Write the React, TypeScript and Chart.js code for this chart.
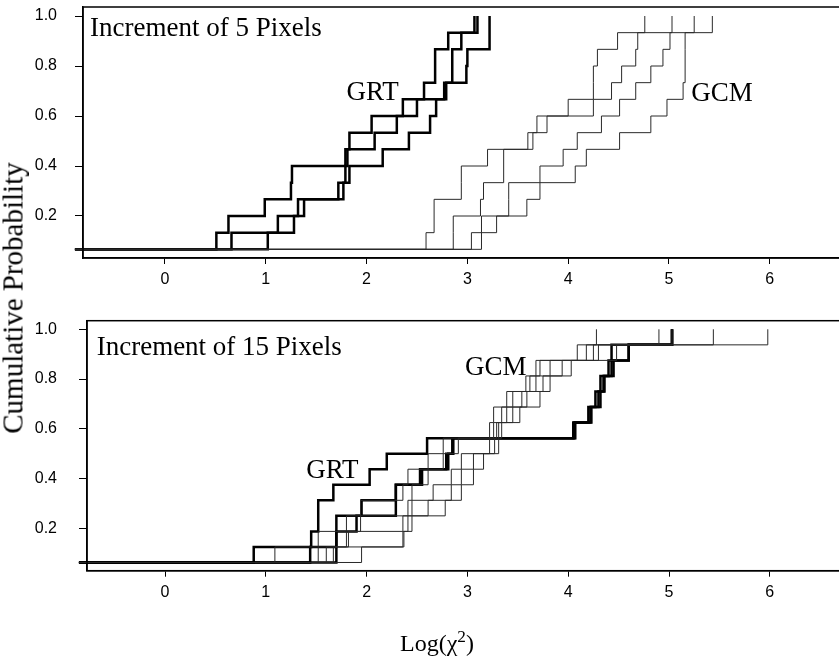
import React, { useEffect, useRef } from "react";
import { Chart, registerables } from "chart.js";

Chart.register(...registerables);

// ---------- shared axis ticks ----------
const xTickValues = [0, 1, 2, 3, 4, 5, 6];
const yTickValues = [0.2, 0.4, 0.6, 0.8, 1.0];

// ---------- Increment of 5 Pixels (n = 15 per curve; jump locations for levels 2/15 .. 15/15) ----------
const N5 = 15;
const grt5A = [0.51, 0.63, 0.99, 1.25, 1.26, 1.79, 1.83, 2.05, 2.36, 2.57, 2.68, 2.68, 2.81, 3.07];
const grt5B = [0.66, 1.12, 1.32, 1.72, 1.79, 1.81, 2.08, 2.3, 2.5, 2.77, 2.85, 2.85, 2.94, 3.1];
const grt5C = [1.02, 1.28, 1.38, 1.77, 1.83, 2.16, 2.42, 2.63, 2.69, 2.79, 2.99, 3.0, 3.22, 3.22];
const gcm5D = [2.59, 2.67, 2.67, 2.94, 2.94, 3.2, 3.6, 3.69, 4.0, 4.25, 4.25, 4.29, 4.49, 4.76];
const gcm5E = [2.86, 2.86, 3.13, 3.16, 3.36, 3.36, 3.65, 3.79, 4.25, 4.43, 4.53, 4.67, 4.69, 5.03];
const gcm5F = [3.04, 3.29, 3.41, 3.41, 3.72, 3.95, 4.09, 4.33, 4.51, 4.67, 4.82, 4.94, 5.01, 5.25];
const gcm5G = [3.14, 3.14, 3.59, 3.72, 4.07, 4.18, 4.51, 4.82, 4.98, 5.14, 5.16, 5.16, 5.16, 5.43];

// ---------- Increment of 15 Pixels (n = 16 per curve; jump locations for levels 2/16 .. 16/16) ----------
const N15 = 16;
const grt15P = [0.88, 1.45, 1.52, 1.52, 1.67, 2.03, 2.2, 2.6, 4.05, 4.2, 4.27, 4.32, 4.4, 4.43, 5.03];
const grt15Q = [1.44, 1.7, 1.7, 1.95, 2.29, 2.55, 2.81, 2.86, 4.06, 4.22, 4.3, 4.35, 4.43, 4.6, 5.03];
const grt15R = [1.7, 1.7, 1.9, 2.29, 2.29, 2.53, 2.79, 2.85, 4.07, 4.23, 4.32, 4.36, 4.45, 4.6, 5.03];
const gcm15S = [1.09, 1.52, 1.8, 1.94, 2.36, 2.41, 2.61, 2.76, 3.22, 3.26, 3.39, 3.58, 3.68, 4.09, 4.28];
const gcm15T = [1.52, 1.8, 1.94, 2.41, 2.45, 2.61, 2.76, 2.91, 3.26, 3.34, 3.45, 3.62, 3.72, 4.18, 4.9];
const gcm15U = [1.6, 1.82, 2.36, 2.45, 2.66, 2.84, 2.94, 3.22, 3.29, 3.39, 3.54, 3.68, 3.82, 4.25, 5.03];
const gcm15V = [1.67, 2.36, 2.41, 2.61, 2.84, 2.94, 3.06, 3.27, 3.31, 3.45, 3.59, 3.75, 3.94, 4.3, 5.44];
const gcm15W = [1.95, 2.37, 2.45, 2.78, 2.94, 3.06, 3.16, 3.31, 3.34, 3.52, 3.72, 3.82, 4.03, 4.48, 5.98];

type Label = { text: string; x: number; y: number };

function stepData(jumps: number[], n: number, xStart: number) {
  const pts = [{ x: xStart, y: 1 / n }];
  jumps.forEach((x, i) => pts.push({ x, y: (i + 2) / n }));
  return pts;
}

function makeDataset(jumps: number[], n: number, xStart: number, thick: boolean) {
  return {
    data: stepData(jumps, n, xStart),
    borderColor: thick ? "#000" : "#2a2a2a",
    borderWidth: thick ? 2.5 : 1,
    stepped: "before" as const,
    pointRadius: 0,
    fill: false,
    clip: false as any,
  };
}

const framePlugin = {
  id: "frame",
  afterDraw(chart: any) {
    const { ctx, chartArea } = chart;
    ctx.save();
    ctx.strokeStyle = "#000";
    ctx.lineWidth = 1.5;
    ctx.strokeRect(chartArea.left, chartArea.top, chartArea.right - chartArea.left, chartArea.bottom - chartArea.top);
    ctx.restore();
  },
};

function textPlugin(labels: Label[]) {
  return {
    id: "panelText",
    afterDatasetsDraw(chart: any) {
      const { ctx, scales } = chart;
      ctx.save();
      ctx.fillStyle = "#000";
      ctx.font = '27px "Liberation Serif", "Times New Roman", serif';
      ctx.textBaseline = "alphabetic";
      ctx.textAlign = "left";
      labels.forEach((l) => {
        ctx.fillText(l.text, scales.x.getPixelForValue(l.x), scales.y.getPixelForValue(l.y));
      });
      ctx.restore();
    },
  };
}

type PanelProps = {
  top: number;
  height: number;
  curves: { jumps: number[]; thick: boolean }[];
  n: number;
  xMin: number;
  yMin: number;
  yMax: number;
  yAxisWidth: number;
  padTop: number;
  padBottom: number;
  labels: Label[];
};

const X_MAX = 6.75;
const CANVAS_W = 850;

function Panel(props: PanelProps) {
  const ref = useRef<HTMLCanvasElement | null>(null);
  useEffect(() => {
    if (!ref.current) return;
    const tickFont = { family: '"Liberation Sans", Arial, sans-serif', size: 16 };
    const xStart = props.xMin - 0.08;
    const chart = new Chart(ref.current, {
      type: "line",
      data: {
        datasets: props.curves.map((c) => makeDataset(c.jumps, props.n, xStart, c.thick)) as any,
      },
      options: {
        responsive: false,
        animation: false,
        events: [],
        layout: { padding: { left: 0, right: CANVAS_W - 845.4, top: props.padTop, bottom: props.padBottom } },
        plugins: { legend: { display: false }, tooltip: { enabled: false } },
        scales: {
          x: {
            type: "linear",
            min: props.xMin,
            max: X_MAX,
            afterBuildTicks: (s: any) => {
              s.ticks = xTickValues.map((v) => ({ value: v }));
            },
            afterFit: (s: any) => {
              s.height = 40;
              s.paddingLeft = 0;
              s.paddingRight = 0;
              s.paddingTop = 0;
              s.paddingBottom = 0;
            },
            ticks: {
              color: "#000",
              font: tickFont,
              padding: 6,
              maxRotation: 0,
              autoSkip: false,
              callback: (v: any) => String(v),
            },
            grid: { drawOnChartArea: false, drawTicks: true, tickLength: 6, color: "#000", lineWidth: 1 },
            border: { display: true, color: "#000", width: 1.5 },
          },
          y: {
            type: "linear",
            min: props.yMin,
            max: props.yMax,
            afterBuildTicks: (s: any) => {
              s.ticks = yTickValues.map((v) => ({ value: v }));
            },
            afterFit: (s: any) => {
              s.width = props.yAxisWidth;
              s.paddingLeft = 0;
              s.paddingRight = 0;
              s.paddingTop = 0;
              s.paddingBottom = 0;
            },
            ticks: {
              color: "#000",
              font: tickFont,
              padding: props.yAxisWidth - 83 + 18,
              autoSkip: false,
              callback: (v: any) => Number(v).toFixed(1),
            },
            grid: { drawOnChartArea: false, drawTicks: true, tickLength: 8, color: "#000", lineWidth: 1 },
            border: { display: true, color: "#000", width: 1.5 },
          },
        },
      },
      plugins: [framePlugin, textPlugin(props.labels)],
    });
    return () => chart.destroy();
  }, []);
  return (
    <canvas
      ref={ref}
      width={CANVAS_W}
      height={props.height}
      style={{ position: "absolute", left: 0, top: props.top, width: CANVAS_W, height: props.height }}
    />
  );
}

export default function App() {
  return (
    <div
      style={{
        position: "fixed",
        left: 0,
        top: 0,
        width: 839,
        height: 661,
        overflow: "hidden",
        background: "#fff",
      }}
    >
      <Panel
        top={0}
        height={300}
        n={N5}
        xMin={-0.813}
        yMin={0.032}
        yMax={1.036}
        yAxisWidth={83}
        padTop={7}
        padBottom={2}
        curves={[
          { jumps: gcm5D, thick: false },
          { jumps: gcm5E, thick: false },
          { jumps: gcm5F, thick: false },
          { jumps: gcm5G, thick: false },
          { jumps: grt5A, thick: true },
          { jumps: grt5B, thick: true },
          { jumps: grt5C, thick: true },
        ]}
        labels={[
          { text: "Increment of 5 Pixels", x: -0.744, y: 0.92 },
          { text: "GRT", x: 1.8, y: 0.663 },
          { text: "GCM", x: 5.22, y: 0.66 },
        ]}
      />
      <Panel
        top={300}
        height={361}
        n={N15}
        xMin={-0.774}
        yMin={0.0295}
        yMax={1.0346}
        yAxisWidth={87}
        padTop={20.7}
        padBottom={50.3}
        curves={[
          { jumps: gcm15S, thick: false },
          { jumps: gcm15T, thick: false },
          { jumps: gcm15U, thick: false },
          { jumps: gcm15V, thick: false },
          { jumps: gcm15W, thick: false },
          { jumps: grt15P, thick: true },
          { jumps: grt15Q, thick: true },
          { jumps: grt15R, thick: true },
        ]}
        labels={[
          { text: "Increment of 15 Pixels", x: -0.678, y: 0.897 },
          { text: "GRT", x: 1.4, y: 0.403 },
          { text: "GCM", x: 2.976, y: 0.816 },
        ]}
      />
      <div
        style={{
          position: "absolute",
          left: 13,
          top: 298,
          transform: "translate(-50%, -50%) rotate(-90deg)",
          font: '29px "Liberation Serif", "Times New Roman", serif',
          whiteSpace: "nowrap",
          color: "#000",
          lineHeight: 1,
        }}
      >
        Cumulative Probability
      </div>
      <div
        style={{
          position: "absolute",
          left: 437,
          top: 643,
          transform: "translate(-50%, -50%)",
          font: '24px "Liberation Serif", "Times New Roman", serif',
          whiteSpace: "nowrap",
          color: "#000",
          lineHeight: 1,
        }}
      >
        Log(χ<sup style={{ fontSize: "0.72em", lineHeight: 0, verticalAlign: "0.55em" }}>2</sup>)
      </div>
    </div>
  );
}
